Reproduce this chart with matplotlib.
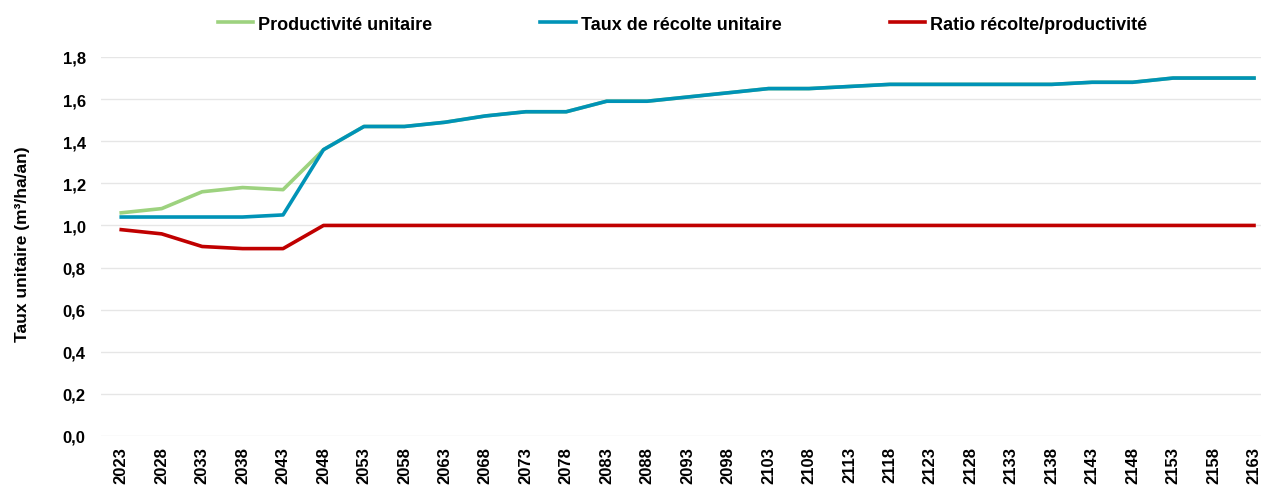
import matplotlib
matplotlib.use("Agg")
import matplotlib.pyplot as plt
import numpy as np

years = [str(y) for y in range(2023, 2164, 5)]
productivite = [1.06, 1.08, 1.16, 1.18, 1.17, 1.36, 1.47, 1.47, 1.49, 1.52,
                1.54, 1.54, 1.59, 1.59, 1.61, 1.63, 1.65, 1.65, 1.66, 1.67,
                1.67, 1.67, 1.67, 1.67, 1.68, 1.68, 1.70, 1.70, 1.70]
recolte = [1.04, 1.04, 1.04, 1.04, 1.05, 1.36, 1.47, 1.47, 1.49, 1.52,
           1.54, 1.54, 1.59, 1.59, 1.61, 1.63, 1.65, 1.65, 1.66, 1.67,
           1.67, 1.67, 1.67, 1.67, 1.68, 1.68, 1.70, 1.70, 1.70]
ratio = [0.98, 0.96, 0.90, 0.89, 0.89, 1.00, 1.00, 1.00, 1.00, 1.00,
         1.00, 1.00, 1.00, 1.00, 1.00, 1.00, 1.00, 1.00, 1.00, 1.00,
         1.00, 1.00, 1.00, 1.00, 1.00, 1.00, 1.00, 1.00, 1.00]
labels = ["Productivité unitaire", "Taux de récolte unitaire", "Ratio récolte/productivité"]
yticks = [0.0, 0.2, 0.4, 0.6, 0.8, 1.0, 1.2, 1.4, 1.6, 1.8]

plt.rcParams['font.family'] = ['Liberation Sans', 'DejaVu Sans']
plt.rcParams['font.weight'] = 'bold'

fig = plt.figure(figsize=(12.61, 4.89), dpi=100)
ax = fig.add_axes([101/1261, 52/489, 1 - 101/1261, 379/489])

x = np.arange(len(years))
l1, = ax.plot(x, productivite, color="#9DD27F", lw=2.6, solid_joinstyle='round')
l2, = ax.plot(x, recolte, color="#0093B7", lw=2.6, solid_joinstyle='round')
l3, = ax.plot(x, ratio, color="#C00000", lw=2.6, solid_joinstyle='round')

ax.set_xlim(-0.5, 28 + 7/40.46)
ax.set_ylim(0, 1.8)
ax.set_yticks(yticks)
ax.set_yticklabels([f"{v:.1f}".replace('.', ',') for v in yticks], fontsize=12, fontweight='bold')
ax.set_xticks(x)
ax.set_xticklabels(years, rotation=90, fontsize=12, fontweight='bold')
ax.tick_params(length=0)
ax.tick_params(axis='y', pad=11)
ax.tick_params(axis='x', pad=7)
ax.grid(axis='y', color='#E6E6E6', lw=1)
ax.set_axisbelow(True)
for s in ax.spines.values():
    s.set_visible(False)
ax.set_ylabel("Taux unitaire (m³/ha/an)", fontsize=12.5, fontweight='bold')
ax.yaxis.set_label_coords(-0.061, 0.51)

fig.legend([l1, l2, l3], labels, loc='center left', bbox_to_anchor=(205/1261, 1 - 25/489),
           ncol=3, frameon=False, handlelength=1.95, handletextpad=0.28,
           columnspacing=6.0, borderpad=0.2, prop={'weight': 'bold', 'size': 13})

fig.savefig("out.png", dpi=100)
